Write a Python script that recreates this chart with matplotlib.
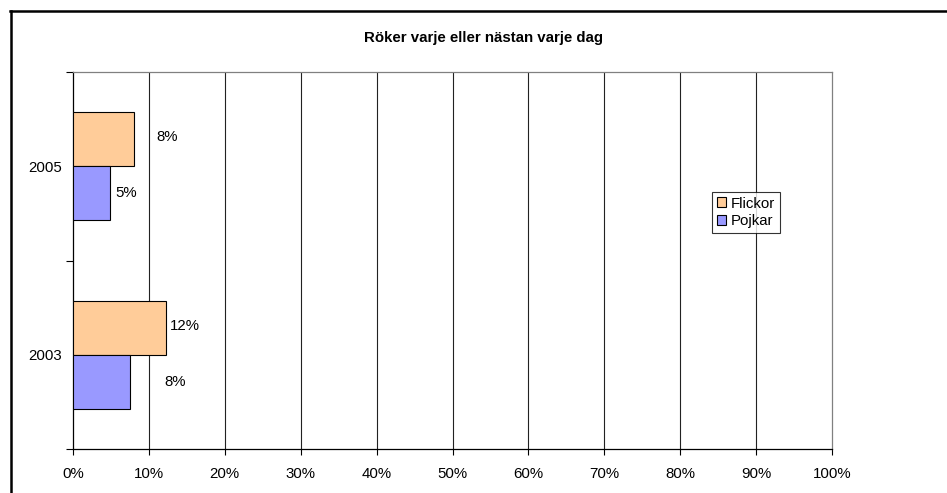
import matplotlib
matplotlib.use("Agg")
import matplotlib.pyplot as plt
from matplotlib.lines import Line2D
from matplotlib.ticker import FixedLocator, PercentFormatter

plt.rcParams['font.family'] = ['Liberation Sans', 'DejaVu Sans']

title = "Röker varje eller nästan varje dag"
categories = ["2003", "2005"]
series_names = ["Flickor", "Pojkar"]
flickor = [12.2, 8.1]
pojkar = [7.55, 4.9]
label_offsets = {"Flickor": [2.55, 4.35], "Pojkar": [5.9, 2.1]}
colors = {"Flickor": "#FFCC99", "Pojkar": "#9999FF"}

FS = 10.8
fig = plt.figure(figsize=(9.47, 4.93), dpi=100)
ax = fig.add_axes([73/947, 1-449/493, (832-73)/947, (449-72)/493])

h = 0.287
ys = [i + 0.5 for i in range(len(categories))]
ax.barh([y + h/2 for y in ys], flickor, height=h, color=colors["Flickor"],
        edgecolor="black", linewidth=0.8, label="Flickor", zorder=3)
ax.barh([y - h/2 for y in ys], pojkar, height=h, color=colors["Pojkar"],
        edgecolor="black", linewidth=0.8, label="Pojkar", zorder=3)

for y, v, off in zip(ys, flickor, label_offsets["Flickor"]):
    ax.text(v + off, y + h/2 + 0.01, f"{v:.0f}%", ha="center", va="center", fontsize=FS)
for y, v, off in zip(ys, pojkar, label_offsets["Pojkar"]):
    ax.text(v + off, y - h/2, f"{v:.0f}%", ha="center", va="center", fontsize=FS)

ax.set_xlim(0, 100)
ax.set_ylim(0, len(categories))
ax.xaxis.set_major_locator(FixedLocator(range(0, 101, 10)))
ax.xaxis.set_major_formatter(PercentFormatter(decimals=0))
ax.set_yticks([0, 1, 2])
ax.set_yticklabels([])
ax.set_yticks(ys, minor=True)
ax.set_yticklabels(categories, minor=True)
ax.tick_params(axis="y", which="major", length=5, width=0.8, color="black")
ax.tick_params(axis="y", which="minor", length=0, pad=8, labelsize=FS)
ax.tick_params(axis="x", length=4, width=0.8, pad=9, labelsize=FS)

for x in range(10, 100, 10):
    ax.axvline(x, color="#222222", linewidth=0.8, zorder=1)

ax.spines["left"].set_color("black")
ax.spines["bottom"].set_color("black")
ax.spines["left"].set_linewidth(0.9)
ax.spines["bottom"].set_linewidth(0.9)
ax.spines["top"].set_color("#808080")
ax.spines["right"].set_color("#808080")
ax.spines["top"].set_linewidth(0.9)
ax.spines["right"].set_linewidth(0.9)

fig.text(483/947, 1-38/493, title, ha="center", va="center",
         fontsize=FS, fontweight="bold")

leg = ax.legend(loc="upper left", bbox_to_anchor=(712/947, 1-192/493),
                bbox_transform=fig.transFigure, fontsize=FS, frameon=True,
                fancybox=False, shadow=False, handlelength=0.6, handleheight=0.6,
                handletextpad=0.35, labelspacing=0.25, borderpad=0.3,
                borderaxespad=0)
leg.get_frame().set_edgecolor("black")
leg.get_frame().set_linewidth(0.8)

fig.add_artist(Line2D([10.5/947, 10.5/947], [0, 1-10.5/493], color="black",
                      linewidth=1.8, transform=fig.transFigure))
fig.add_artist(Line2D([10.5/947 - 0.0009, 1], [1-10.5/493, 1-10.5/493], color="black",
                      linewidth=1.8, transform=fig.transFigure))

fig.savefig("out.png", dpi=100)
